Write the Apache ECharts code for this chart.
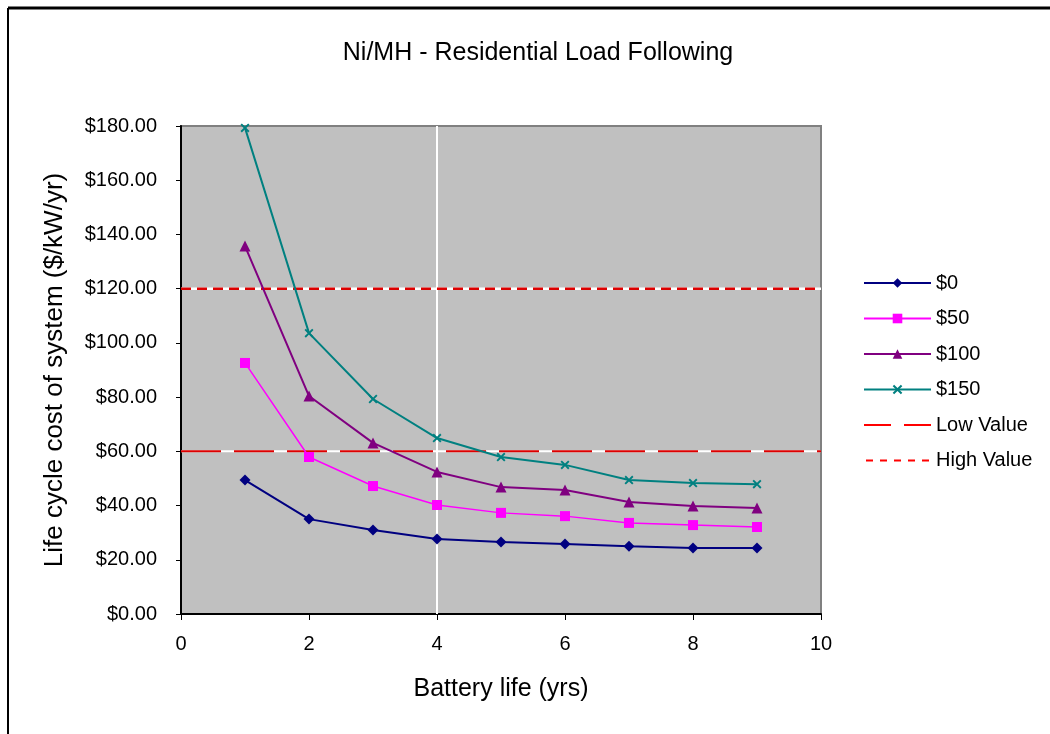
<!DOCTYPE html>
<html>
<head>
<meta charset="utf-8">
<script src="https://cdn.jsdelivr.net/npm/echarts@6/dist/echarts.min.js"></script>
<style>
html,body{margin:0;padding:0;background:#fff;}
#chart{width:1050px;height:734px;}
</style>
</head>
<body>
<div id="chart"></div>
<script>
// ---- data ----
const batteryLife = [1, 2, 3, 4, 5, 6, 7, 8, 9];
const seriesNames = ['$0', '$50', '$100', '$150'];
const cost0   = [49.4, 35.0, 31.0, 27.7, 26.6, 25.8, 25.0, 24.3, 24.3];
const cost50  = [92.6, 57.9, 47.2, 40.2, 37.3, 36.1, 33.6, 32.8, 32.1];
const cost100 = [135.7, 80.4, 63.1, 52.4, 46.8, 45.7, 41.3, 39.8, 39.1];
const cost150 = [179.3, 103.6, 79.3, 64.9, 57.9, 55.0, 49.4, 48.3, 47.9];
const lowValue = 60;
const highValue = 120;
const xRange = [0, 10];
const yRange = [0, 180];
const whiteGridX = 4;
const yTickLabels = ['$0.00','$20.00','$40.00','$60.00','$80.00','$100.00','$120.00','$140.00','$160.00','$180.00'];

const FONT = '"Liberation Sans", Arial, sans-serif';
const pairs = (ys) => batteryLife.map((x, i) => [x, ys[i]]);
const hline = (v) => [[xRange[0], v], [xRange[1], v]];
const xMarker = 'path://M0,1.5L1.5,0L5,3.5L8.5,0L10,1.5L6.5,5L10,8.5L8.5,10L5,6.5L1.5,10L0,8.5L3.5,5Z';
// legend icons for the reference lines (box 67 x 12, dashes centred)
const lowIcon = 'path://M0,0L0,0M0,12L0,12M0,5L27,5L27,7L0,7ZM40,5L67,5L67,7L40,7Z';
const highIcon = 'path://M0,0L0,0M0,12L0,12M0,5L7,5L7,7L0,7ZM14,5L21,5L21,7L14,7ZM28,5L35,5L35,7L28,7ZM42,5L49,5L49,7L42,7ZM56,5L63,5L63,7L56,7Z';

const chart = echarts.init(document.getElementById('chart'));
const mk = (name, ys, color, symbol, size, width) => ({
  name, type: 'line', data: pairs(ys), z: 5,
  symbol, symbolSize: size,
  lineStyle: { color, width }, itemStyle: { color },
  animation: false
});
chart.setOption({
  animation: false,
  backgroundColor: '#ffffff',
  title: {
    text: 'Ni/MH - Residential Load Following',
    left: 533, top: 36, textAlign: 'center',
    textStyle: { fontFamily: FONT, fontSize: 25, fontWeight: 'normal', color: '#000' }
  },
  graphic: [
    { type: 'line', shape: { x1: 8, y1: 8, x2: 1050, y2: 8 }, style: { stroke: '#000', lineWidth: 3 } },
    { type: 'line', shape: { x1: 8, y1: 8, x2: 8, y2: 734 }, style: { stroke: '#000', lineWidth: 2 } }
  ],
  grid: {
    left: 181, top: 126, right: 229, bottom: 120,
    show: true, backgroundColor: '#c0c0c0', borderColor: '#808080', borderWidth: 2
  },
  legend: {
    left: 858, top: 268, orient: 'vertical', itemGap: 15.5,
    itemWidth: 67, itemHeight: 12,
    data: ['$0', '$50', '$100', '$150',
      { name: 'Low Value', icon: lowIcon, itemStyle: { color: '#ff0000' } },
      { name: 'High Value', icon: highIcon, itemStyle: { color: '#ff0000' } }],
    textStyle: { fontFamily: FONT, fontSize: 20, color: '#000' }
  },
  xAxis: {
    type: 'value', min: xRange[0], max: xRange[1], interval: 2,
    name: 'Battery life (yrs)', nameLocation: 'middle', nameGap: 63,
    nameTextStyle: { fontFamily: FONT, fontSize: 25, color: '#000' },
    axisLine: { show: true, onZero: false, lineStyle: { color: '#000', width: 2 } },
    axisTick: { show: true, length: 6, inside: false, lineStyle: { color: '#000' } },
    axisLabel: { fontFamily: FONT, fontSize: 20, color: '#000', margin: 20 },
    splitLine: { show: false }
  },
  yAxis: {
    type: 'value', min: yRange[0], max: yRange[1], interval: 20,
    name: 'Life cycle cost of system ($/kW/yr)', nameLocation: 'middle', nameGap: 113,
    nameTextStyle: { fontFamily: FONT, fontSize: 26, color: '#000' },
    axisLine: { show: true, lineStyle: { color: '#000', width: 2 } },
    axisTick: { show: true, length: 5, lineStyle: { color: '#000' } },
    axisLabel: { fontFamily: FONT, fontSize: 20, color: '#000', margin: 24,
      formatter: (v) => yTickLabels[Math.round(v / 20)] },
    splitLine: { show: false }
  },
  series: [
    { type: 'line', data: [[whiteGridX, yRange[0]], [whiteGridX, yRange[1]]], symbol: 'none', silent: true,
      lineStyle: { color: '#ffffff', width: 2 }, z: 1 },
    { type: 'line', data: hline(lowValue), symbol: 'none', silent: true,
      lineStyle: { color: '#ffffff', width: 2 }, z: 1 },
    { type: 'line', data: hline(highValue), symbol: 'none', silent: true,
      lineStyle: { color: '#ffffff', width: 2.5 }, z: 1 },
    { name: 'Low Value', type: 'line', data: hline(lowValue), symbol: 'none', z: 2,
      lineStyle: { color: '#dd0000', width: 2, type: [40, 13] }, itemStyle: { color: '#ff0000' } },
    { name: 'High Value', type: 'line', data: hline(highValue), symbol: 'none', z: 2,
      lineStyle: { color: '#dd0000', width: 2.5, type: [10, 6] }, itemStyle: { color: '#ff0000' } },
    mk('$0', cost0, '#000080', 'diamond', 11, 2),
    mk('$50', cost50, '#ff00ff', 'rect', 10, 1.5),
    mk('$100', cost100, '#800080', 'triangle', 11, 2),
    mk('$150', cost150, '#008080', xMarker, 9, 2)
  ]
});
</script>
</body>
</html>
